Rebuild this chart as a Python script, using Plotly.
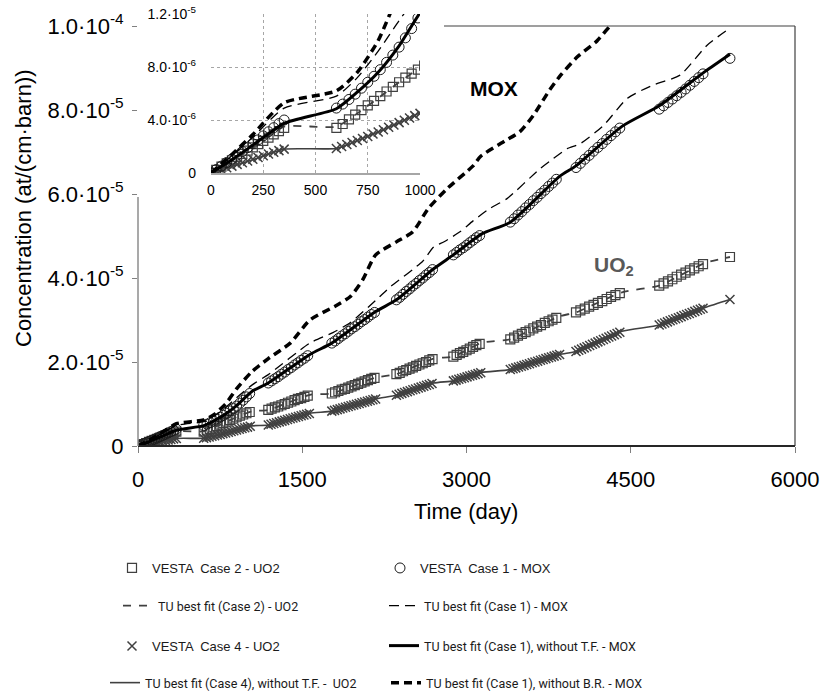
import plotly.graph_objects as go

# ---------------- data (concentrations in units of 1e-6 at/(cm·barn)) ----------------
# TU best-fit curves, Case 2 (UO2), Case 4 w/o T.F. (UO2), Case 1 w/o T.F. (MOX)
t_fit = [0, 100, 200, 350, 600, 700, 800, 900, 1040, 1190, 1570, 1770, 2170, 2360,
         2700, 2880, 3140, 3400, 3850, 4000, 4420, 4760, 5180, 5406]
uo2_case2_fit = [0, 0.95, 1.9, 3.5, 3.5, 4.5, 5.65, 6.85, 8.3, 8.6, 12.2, 12.5, 16.3, 17.1,
                 20.8, 21.3, 24.6, 25.4, 30.9, 31.8, 36.6, 38.2, 43.6, 45.0]
uo2_case4_noTF = [0, 0.5, 1.0, 1.8, 1.85, 2.45, 3.1, 3.8, 4.8, 5.0, 7.8, 8.3, 11.2, 12.1,
                  15.0, 15.5, 17.5, 18.2, 21.8, 22.5, 27.3, 28.8, 33.0, 34.9]
mox_case1_noTF = [0, 1.0, 2.1, 3.75, 4.85, 6.1, 7.6, 9.6, 13.0, 15.0, 21.8, 24.5, 32.0, 34.8,
                  42.2, 45.5, 50.5, 53.3, 64.2, 66.7, 76.1, 81.0, 89.2, 93.3]

# TU best fit (Case 1) - MOX
t_fit_case1 = [0, 100, 200, 350, 600, 700, 800, 900, 1040, 1190, 1570, 1780, 1940, 2180,
               2300, 2600, 2700, 2800, 2940, 3060, 3210, 3370, 3670, 3790, 3920, 4040,
               4250, 4470, 4700, 4950, 5200, 5406]
mox_case1_fit = [0, 1.3, 2.7, 4.9, 5.8, 7.2, 9.2, 11.5, 14.5, 17.0, 24.5, 27.0, 29.4, 34.9,
                 37.8, 44.0, 47.4, 48.7, 51.0, 53.6, 56.5, 58.9, 66.0, 68.4, 70.8, 72.0,
                 76.3, 82.8, 85.9, 88.3, 95.5, 99.5]

# TU best fit (Case 1), without B.R. - MOX
t_fit_noBR = [0, 100, 200, 350, 600, 700, 800, 900, 1040, 1190, 1390, 1570, 1800, 1940,
              2055, 2170, 2360, 2510, 2650, 2820, 3060, 3130, 3350, 3490, 3610, 3760,
              3860, 4010, 4190, 4310, 4420]
mox_case1_noBR = [0, 1.4, 2.9, 5.3, 6.2, 7.6, 10.0, 13.6, 17.7, 20.8, 24.5, 30.0, 33.3, 35.6,
                  39.7, 45.5, 48.6, 51.0, 56.5, 61.2, 66.7, 69.0, 72.6, 74.9, 78.7, 84.8,
                  88.3, 92.6, 96.4, 100.0, 103.0]

# VESTA points, Case 1 (MOX) and Case 2 (UO2)
t_vesta = [0, 25, 50, 75, 100, 125, 150, 175, 200, 225, 250, 275, 300, 325, 350,
           600, 630, 660, 690, 720, 750, 780, 810, 840, 870, 900, 930, 960, 990, 1020,
           1190, 1220, 1250, 1280, 1310, 1340, 1370, 1400, 1430, 1460, 1490, 1520, 1550,
           1770, 1800, 1830, 1860, 1890, 1920, 1950, 1980, 2010, 2040, 2070, 2100, 2130, 2160,
           2360, 2390, 2420, 2450, 2480, 2510, 2540, 2570, 2600, 2630, 2660, 2690,
           2880, 2910, 2940, 2970, 3000, 3030, 3060, 3090, 3120,
           3400, 3435, 3470, 3505, 3540, 3575, 3610, 3645, 3680, 3715, 3750, 3785, 3820,
           4000, 4040, 4080, 4120, 4160, 4200, 4240, 4280, 4320, 4360, 4400,
           4760, 4800, 4840, 4880, 4920, 4960, 5000, 5040, 5080, 5120, 5160,
           5406]
vesta_case1_mox = [0, 0.26, 0.52, 0.79, 1.06, 1.34, 1.62, 1.91, 2.2, 2.5, 2.8, 3.11, 3.42, 3.73, 4.0,
                   4.9, 5.2, 5.55, 5.95, 6.4, 6.85, 7.3, 7.8, 8.35, 8.9, 9.5, 10.2, 10.9, 11.7, 12.5,
                   15.0, 15.5, 16.0, 16.5, 17.1, 17.6, 18.2, 18.7, 19.3, 19.8, 20.4, 20.9, 21.5,
                   24.5, 25.0, 25.6, 26.2, 26.7, 27.3, 27.9, 28.4, 29.0, 29.6, 30.1, 30.7, 31.3, 31.8,
                   34.8, 35.4, 36.1, 36.8, 37.4, 38.1, 38.7, 39.4, 40.0, 40.7, 41.3, 42.0,
                   45.5, 46.1, 46.7, 47.2, 47.8, 48.4, 49.0, 49.6, 50.1,
                   53.3, 54.1, 55.0, 55.8, 56.7, 57.5, 58.4, 59.2, 60.1, 60.9, 61.8, 62.6, 63.5,
                   66.3, 67.3, 68.3, 69.2, 70.2, 71.1, 72.0, 73.0, 73.9, 74.8, 75.7,
                   80.2, 81.0, 81.8, 82.6, 83.4, 84.2, 85.0, 85.9, 86.8, 87.7, 88.6,
                   92.3]
vesta_case2_uo2 = [0, 0.24, 0.48, 0.72, 0.96, 1.2, 1.45, 1.69, 1.93, 2.18, 2.43, 2.67, 2.92, 3.16, 3.4,
                   3.4, 3.7, 4.05, 4.4, 4.75, 5.1, 5.45, 5.8, 6.15, 6.5, 6.85, 7.2, 7.5, 7.8, 8.1,
                   8.6, 8.9, 9.2, 9.4, 9.7, 10.0, 10.3, 10.6, 10.9, 11.2, 11.4, 11.7, 12.0,
                   12.5, 12.8, 13.1, 13.4, 13.6, 13.9, 14.2, 14.5, 14.8, 15.1, 15.4, 15.7, 16.0, 16.2,
                   17.1, 17.4, 17.8, 18.1, 18.4, 18.7, 19.1, 19.4, 19.7, 20.0, 20.4, 20.7,
                   21.3, 21.7, 22.1, 22.4, 22.8, 23.2, 23.6, 24.0, 24.3,
                   25.4, 25.8, 26.3, 26.7, 27.1, 27.5, 28.0, 28.4, 28.8, 29.3, 29.7, 30.1, 30.5,
                   31.8, 32.3, 32.7, 33.2, 33.6, 34.1, 34.5, 35.0, 35.5, 35.9, 36.4,
                   38.2, 38.7, 39.2, 39.7, 40.3, 40.8, 41.3, 41.8, 42.3, 42.8, 43.3,
                   45.0]

# VESTA points, Case 4 (UO2)
t_vesta_case4 = [0, 25, 50, 75, 100, 125, 150, 175, 200, 225, 250, 275, 300, 325, 350,
                 600, 625, 650, 675, 700, 725, 750, 775, 800, 825, 850, 875, 900, 925, 950, 975, 1000, 1025,
                 1190, 1215, 1240, 1265, 1290, 1315, 1340, 1365, 1390, 1415, 1440, 1465, 1490, 1515, 1540, 1565,
                 1770, 1795, 1820, 1845, 1870, 1895, 1920, 1945, 1970, 1995, 2020, 2045, 2070, 2095, 2120, 2145, 2170,
                 2360, 2385, 2410, 2435, 2460, 2485, 2510, 2535, 2560, 2585, 2610, 2635, 2660, 2685,
                 2880, 2905, 2930, 2955, 2980, 3005, 3030, 3055, 3080, 3105, 3130,
                 3400, 3425, 3450, 3475, 3500, 3525, 3550, 3575, 3600, 3625, 3650, 3675, 3700, 3725,
                 3750, 3775, 3800, 3825, 3850,
                 4000, 4025, 4050, 4075, 4100, 4125, 4150, 4175, 4200, 4225, 4250, 4275, 4300, 4325,
                 4350, 4375, 4400,
                 4760, 4785, 4810, 4835, 4860, 4885, 4910, 4935, 4960, 4985, 5010, 5035, 5060, 5085,
                 5110, 5135, 5160,
                 5406]
vesta_case4_uo2 = [0, 0.13, 0.26, 0.39, 0.52, 0.65, 0.78, 0.91, 1.04, 1.17, 1.3, 1.43, 1.56, 1.69, 1.8,
                   1.85, 2.0, 2.15, 2.3, 2.45, 2.6, 2.75, 2.95, 3.1, 3.27, 3.45, 3.62, 3.8, 3.98, 4.15, 4.33, 4.5, 4.68,
                   5.0, 5.18, 5.37, 5.55, 5.74, 5.92, 6.1, 6.29, 6.47, 6.66, 6.84, 7.03, 7.21, 7.39, 7.58, 7.76,
                   8.3, 8.48, 8.66, 8.84, 9.03, 9.21, 9.39, 9.57, 9.75, 9.93, 10.11, 10.29, 10.48, 10.66, 10.84, 11.02, 11.2,
                   12.1, 12.31, 12.53, 12.74, 12.95, 13.17, 13.38, 13.59, 13.81, 14.02, 14.23, 14.45, 14.66, 14.87,
                   15.5, 15.69, 15.88, 16.08, 16.27, 16.46, 16.65, 16.85, 17.04, 17.23, 17.42,
                   18.2, 18.4, 18.6, 18.8, 19.0, 19.2, 19.4, 19.6, 19.8, 20.0, 20.2, 20.4, 20.6, 20.8,
                   21.0, 21.2, 21.4, 21.6, 21.8,
                   22.5, 22.79, 23.07, 23.36, 23.64, 23.93, 24.21, 24.5, 24.79, 25.07, 25.36, 25.64, 25.93, 26.21,
                   26.5, 26.79, 27.07,
                   28.8, 29.05, 29.3, 29.55, 29.8, 30.05, 30.3, 30.55, 30.8, 31.05, 31.3, 31.55, 31.8, 32.05,
                   32.3, 32.55, 32.8,
                   34.9]

main_xticks = [0, 1500, 3000, 4500, 6000]
main_yticks = [0, 2e-5, 4e-5, 6e-5, 8e-5, 1e-4]
main_yticktext = ["0", "2.0·10<sup>-5</sup>", "4.0·10<sup>-5</sup>", "6.0·10<sup>-5</sup>",
                  "8.0·10<sup>-5</sup>", "1.0·10<sup>-4</sup>"]
inset_xticks = [0, 250, 500, 750, 1000]
inset_yticks = [0, 4e-6, 8e-6, 1.2e-5]
inset_yticktext = ["0", "4.0·10<sup>-6</sup>", "8.0·10<sup>-6</sup>", "1.2·10<sup>-5</sup>"]

UNIT = 1e-6
W, H = 822, 694
FONT = "Liberation Sans, Arial, sans-serif"
NARROW = "Roboto, Liberation Sans, sans-serif"


def px(x):
    return x / W


def py(y):
    return 1 - y / H


def sc(vals):
    return [v * UNIT for v in vals]


GRAY = "#404040"
series = [
    dict(name="VESTA  Case 4 - UO2", x=t_vesta_case4, y=vesta_case4_uo2, mode="markers",
         marker=dict(symbol="x-thin", size=9, color=GRAY, line=dict(color=GRAY, width=1.5)),
         legend="legend5"),
    dict(name="TU best fit (Case 4), without T.F. -  UO2", x=t_fit, y=uo2_case4_noTF, mode="lines",
         line=dict(color=GRAY, width=1.6, shape="spline", smoothing=0.5), legend="legend7"),
    dict(name="VESTA  Case 2 - UO2", x=t_vesta, y=vesta_case2_uo2, mode="markers",
         marker=dict(symbol="square-open", size=9, color=GRAY, line=dict(width=1.2)),
         legend="legend"),
    dict(name="TU best fit (Case 2) - UO2", x=t_fit, y=uo2_case2_fit, mode="lines",
         line=dict(color=GRAY, width=1.8, dash="8px,8px", shape="spline", smoothing=0.5),
         legend="legend3"),
    dict(name="VESTA  Case 1 - MOX", x=t_vesta, y=vesta_case1_mox, mode="markers",
         marker=dict(symbol="circle-open", size=10, color="#1a1a1a", line=dict(width=1)),
         legend="legend2"),
    dict(name="TU best fit (Case 1), without T.F. - MOX", x=t_fit, y=mox_case1_noTF, mode="lines",
         line=dict(color="#000000", width=3, shape="spline", smoothing=0.6), legend="legend6"),
    dict(name="TU best fit (Case 1) - MOX", x=t_fit_case1, y=mox_case1_fit, mode="lines",
         line=dict(color="#000000", width=1.3, dash="10px,6px", shape="spline", smoothing=0.6),
         legend="legend4"),
    dict(name="TU best fit (Case 1), without B.R. - MOX", x=t_fit_noBR, y=mox_case1_noBR, mode="lines",
         line=dict(color="#000000", width=3.5, dash="8px,5px", shape="spline", smoothing=0.6),
         legend="legend8"),
]

fig = go.Figure()
for s in series:
    common = {k: v for k, v in s.items() if k not in ("x", "y", "legend", "name")}
    fig.add_trace(go.Scatter(x=s["x"], y=sc(s["y"]), name=s["name"], legend=s["legend"],
                             xaxis="x", yaxis="y", **common))
for s in series:
    common = {k: v for k, v in s.items() if k not in ("x", "y", "legend", "name")}
    fig.add_trace(go.Scatter(x=s["x"], y=sc(s["y"]), name=s["name"], showlegend=False,
                             xaxis="x2", yaxis="y2", **common))

# main plot area (pixels): x 138..795, y 26..446 ; inset: x 211..420, y 14..173
fig.update_layout(
    width=W, height=H, margin=dict(l=0, r=0, t=0, b=0, autoexpand=False),
    paper_bgcolor="white", plot_bgcolor="rgba(0,0,0,0)",
    font=dict(family=FONT, color="#000000"),
    xaxis=dict(domain=[px(138), px(795)], range=[0, 6000], tickvals=main_xticks,
               ticks="outside", ticklen=6, tickcolor="#808080", showline=False,
               showgrid=False, zeroline=False, tickfont=dict(size=22), ticklabelstandoff=8,
               anchor="y", automargin=False),
    yaxis=dict(domain=[py(446), py(26)], range=[0, 1e-4], tickvals=main_yticks,
               ticktext=main_yticktext, ticks="outside", ticklen=5, tickcolor="#808080",
               showline=False, showgrid=False, zeroline=False, tickfont=dict(size=22),
               ticklabelstandoff=4, anchor="x", automargin=False),
    xaxis2=dict(domain=[px(211), px(420)], range=[0, 1000], tickvals=inset_xticks,
                showgrid=True, gridcolor="#a6a6a6", griddash="dot", gridwidth=1,
                showline=True, linecolor="#a6a6a6", linewidth=1.5, zeroline=False,
                ticks="", tickfont=dict(size=14), ticklabelstandoff=3, anchor="y2",
                automargin=False),
    yaxis2=dict(domain=[py(173), py(14)], range=[0, 1.2e-5], tickvals=inset_yticks,
                ticktext=inset_yticktext, showgrid=True, gridcolor="#a6a6a6", griddash="dot",
                gridwidth=1, showline=False, zeroline=False, ticks="",
                tickfont=dict(size=14), ticklabelstandoff=14, anchor="x2", automargin=False),
)

# frame of the main plot (the inset box hides its upper-left part)
frame = [((444, 26), (795, 26), "#404040", 1.2),
         ((795, 26), (795, 446), "#404040", 1.2),
         ((138, 446), (795, 446), "#262626", 1.8),
         ((138, 197), (138, 446), "#8c8c8c", 1.5)]
for (x0, y0), (x1, y1), c, w in frame:
    fig.add_shape(type="line", xref="paper", yref="paper", x0=px(x0), y0=py(y0),
                  x1=px(x1), y1=py(y1), line=dict(color=c, width=w), layer="above")

fig.add_annotation(text="Concentration (at/(cm·barn))", textangle=-90, xref="paper", yref="paper",
                   x=px(24), y=py(208), showarrow=False, font=dict(size=22, family=FONT),
                   xanchor="center", yanchor="middle")
fig.add_annotation(text="Time (day)", xref="paper", yref="paper", x=px(466), y=py(512),
                   showarrow=False, font=dict(size=22, family=FONT), xanchor="center",
                   yanchor="middle")
fig.add_annotation(text="<b>MOX</b>", xref="paper", yref="paper", x=px(494), y=py(88),
                   showarrow=False, font=dict(size=21, family=FONT, color="#000000"),
                   xanchor="center", yanchor="middle")
fig.add_annotation(text="<b>UO<sub>2</sub></b>", xref="paper", yref="paper", x=px(592), y=py(266),
                   showarrow=False, font=dict(size=21, family=FONT, color="#595959"),
                   xanchor="left", yanchor="middle")

# legends: one per entry, laid out in two columns of four rows
leg_pos = {
    "legend": (112, 568, FONT, 13), "legend2": (380, 568, FONT, 13),
    "legend3": (118, 606, NARROW, 12.5), "legend4": (384, 606, NARROW, 12.5),
    "legend5": (112, 646, FONT, 13), "legend6": (384, 646, NARROW, 12.5),
    "legend7": (105, 683, NARROW, 12.5), "legend8": (386, 683, NARROW, 12.5),
}
for key, (lx, ly, fam, fs) in leg_pos.items():
    fig.update_layout({key: dict(x=px(lx), y=py(ly), xanchor="left", yanchor="middle",
                                 bgcolor="rgba(0,0,0,0)", itemwidth=30,
                                 font=dict(size=fs, family=fam, color="#1a1a1a"))})

fig.write_html("out.html")
